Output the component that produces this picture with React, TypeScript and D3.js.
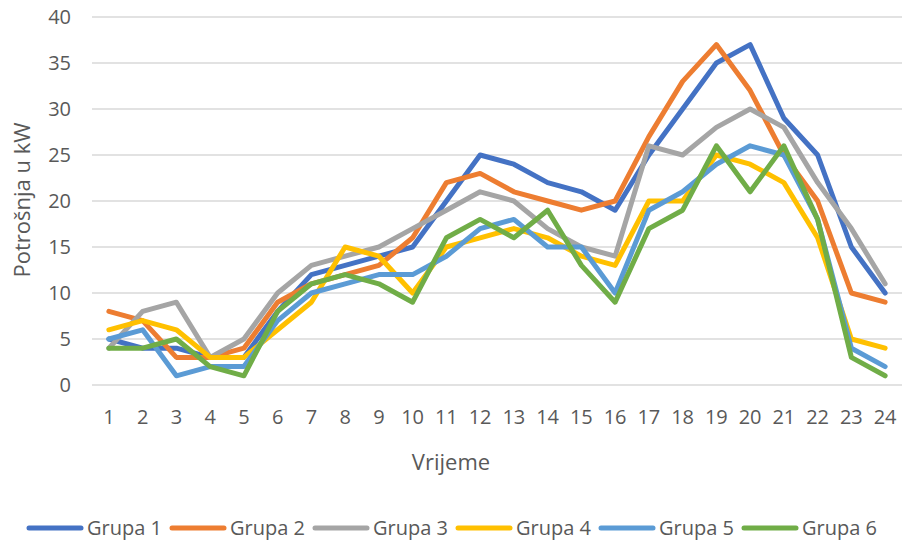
import React from "react";
import * as d3 from "d3";

const hours = [1,2,3,4,5,6,7,8,9,10,11,12,13,14,15,16,17,18,19,20,21,22,23,24];
const seriesNames = ["Grupa 1","Grupa 2","Grupa 3","Grupa 4","Grupa 5","Grupa 6"];
const grupa1 = [5,4,4,3,3,8,12,13,14,15,20,25,24,22,21,19,25,30,35,37,29,25,15,10];
const grupa2 = [8,7,3,3,4,9,11,12,13,16,22,23,21,20,19,20,27,33,37,32,25,20,10,9];
const grupa3 = [4,8,9,3,5,10,13,14,15,17,19,21,20,17,15,14,26,25,28,30,28,22,17,11];
const grupa4 = [6,7,6,3,3,6,9,15,14,10,15,16,17,16,14,13,20,20,25,24,22,16,5,4];
const grupa5 = [5,6,1,2,2,7,10,11,12,12,14,17,18,15,15,10,19,21,24,26,25,18,4,2];
const grupa6 = [4,4,5,2,1,8,11,12,11,9,16,18,16,19,13,9,17,19,26,21,26,18,3,1];
const yTicks = [0,5,10,15,20,25,30,35,40];
const colors = ["#4472C4","#ED7D31","#A5A5A5","#FFC000","#5B9BD5","#70AD47"];

const allSeries = [grupa1, grupa2, grupa3, grupa4, grupa5, grupa6];

const W = 903, H = 543;
const left = 92, right = 902, top = 17, bottom = 385;
const font = "'Open Sans', sans-serif";
const textColor = "#595959";

export default function App() {
  const x = d3.scaleBand<number>().domain(hours).range([left, right]).paddingInner(0).paddingOuter(0);
  const cx = (h: number) => (x(h) as number) + x.bandwidth() / 2;
  const y = d3.scaleLinear().domain([0, 40]).range([bottom, top]);
  const line = d3.line<number>().x((_, i) => cx(hours[i])).y((v) => y(v));

  return (
    <svg width={W} height={H} style={{ position: "absolute", left: 0, top: 0, display: "block", background: "#fff" }}>
      {yTicks.map((t) => (
        <g key={t}>
          <line x1={left} x2={right} y1={y(t)} y2={y(t)} stroke="#D9D9D9" strokeWidth={1.5} />
          <text x={71} y={y(t)} dy="0.35em" textAnchor="end" fontFamily={font} fontSize={20} fill={textColor}>{t}</text>
        </g>
      ))}
      {hours.map((h) => (
        <text key={h} x={cx(h)} y={417} dy="0.35em" textAnchor="middle" fontFamily={font} fontSize={20} fill={textColor}>{h}</text>
      ))}
      <text x={451} y={462} dy="0.35em" textAnchor="middle" fontFamily={font} fontSize={22} fill={textColor}>Vrijeme</text>
      <text transform={`translate(22,200) rotate(-90)`} dy="0.35em" textAnchor="middle" fontFamily={font} fontSize={22} fill={textColor}>Potrošnja u kW</text>
      {allSeries.map((s, i) => (
        <path key={i} d={line(s) || ""} fill="none" stroke={colors[i]} strokeWidth={5} strokeLinejoin="round" strokeLinecap="round" />
      ))}
      {seriesNames.map((n, i) => {
        const lx = 27 + i * 143;
        return (
          <g key={n}>
            <line x1={lx + 2} x2={lx + 54} y1={528} y2={528} stroke={colors[i]} strokeWidth={5} strokeLinecap="round" />
            <text x={lx + 60} y={528} dy="0.35em" fontFamily={font} fontSize={20} fill={textColor}>{n}</text>
          </g>
        );
      })}
    </svg>
  );
}
